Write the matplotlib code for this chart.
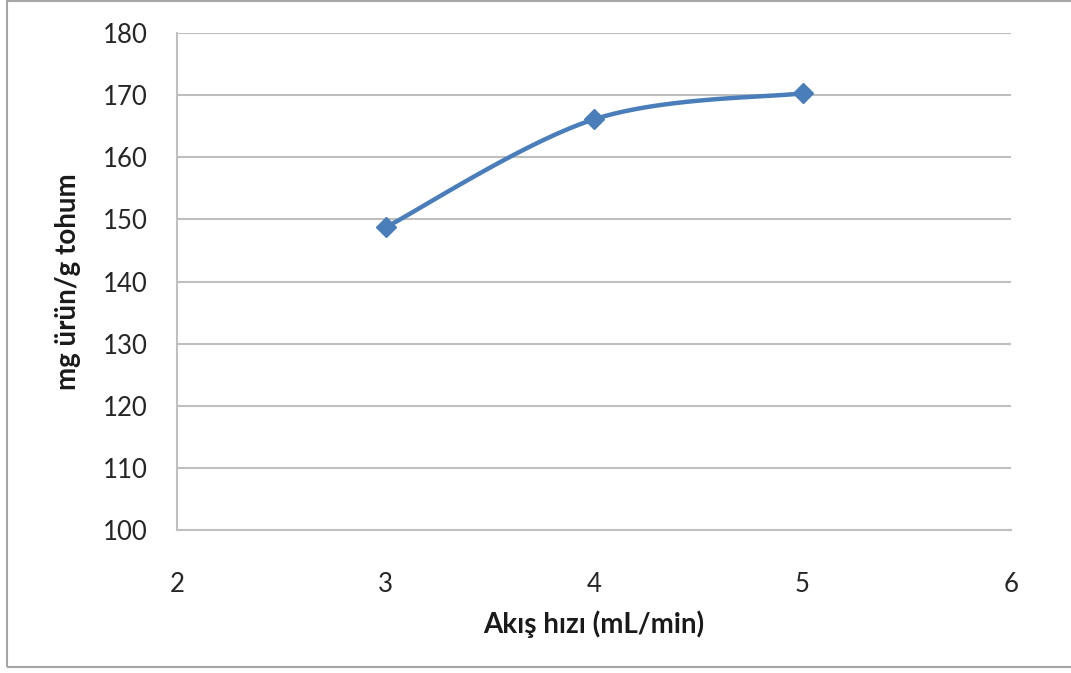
import numpy as np
import matplotlib
matplotlib.use("Agg")
import matplotlib.pyplot as plt
from matplotlib.patches import Rectangle

plt.rcParams['font.family'] = ['Lato', 'DejaVu Sans']

# flow rate vs product yield
flow = [3, 4, 5]
yield_mg = [148.7, 166.1, 170.3]

xticks = [2, 3, 4, 5, 6]
yticks = [100, 110, 120, 130, 140, 150, 160, 170, 180]


def smooth(xs, ys, n=60):
    # bezier smoothing through the points, same style as a spreadsheet "smoothed line"
    p = np.column_stack([xs, ys]).astype(float)
    ext = np.vstack([p[0], p, p[-1]])
    out = []
    t = np.linspace(0, 1, n)[:, None]
    for i in range(1, len(ext) - 2):
        p0, p1, p2, p3 = ext[i - 1], ext[i], ext[i + 1], ext[i + 2]
        c1 = p1 + (p2 - p0) / 6.0
        c2 = p2 - (p3 - p1) / 6.0
        seg = (1 - t)**3 * p1 + 3 * (1 - t)**2 * t * c1 + 3 * (1 - t) * t**2 * c2 + t**3 * p2
        out.append(seg if i == 1 else seg[1:])
    out = np.vstack(out)
    return out[:, 0], out[:, 1]


fig = plt.figure(figsize=(10.71, 6.73), dpi=100)
ax = fig.add_axes([177/1071, 1 - 530/673, (1011 - 177)/1071, (530 - 33)/673])

gray = "#bfbfbf"
blue = "#4a7ebb"

sx, sy = smooth(flow, yield_mg)
ax.plot(sx, sy, color=blue, lw=3.2, solid_capstyle="round", zorder=3)
ax.plot(flow, yield_mg, ls="none", marker="D", ms=10.5, color=blue, zorder=4)

ax.set_xlim(2, 6)
ax.set_ylim(100, 180)
ax.set_xticks(xticks)
ax.set_yticks(yticks)
ax.yaxis.grid(True, color=gray, lw=1.5)
ax.set_axisbelow(True)
for s in ["top", "right"]:
    ax.spines[s].set_visible(False)
for s in ["left", "bottom"]:
    ax.spines[s].set_color(gray)
    ax.spines[s].set_linewidth(1.5)
ax.tick_params(axis="both", length=0, labelsize=18.5, labelcolor="#262626")
ax.tick_params(axis="y", pad=21)
ax.tick_params(axis="x", pad=30)

ax.set_xlabel("Akış hızı (mL/min)", fontsize=20, fontweight="bold", color="#1a1a1a", labelpad=10)
ax.set_ylabel("mg ürün/g tohum", fontsize=20, fontweight="bold", color="#1a1a1a", labelpad=16)

# outer frame of the chart area
fig.patches.append(Rectangle((7/1071, 6/673), 1.1, (672 - 6)/673, transform=fig.transFigure,
                             fill=False, edgecolor="#a6a6a6", lw=1.5))

fig.savefig("out.png", dpi=100)
